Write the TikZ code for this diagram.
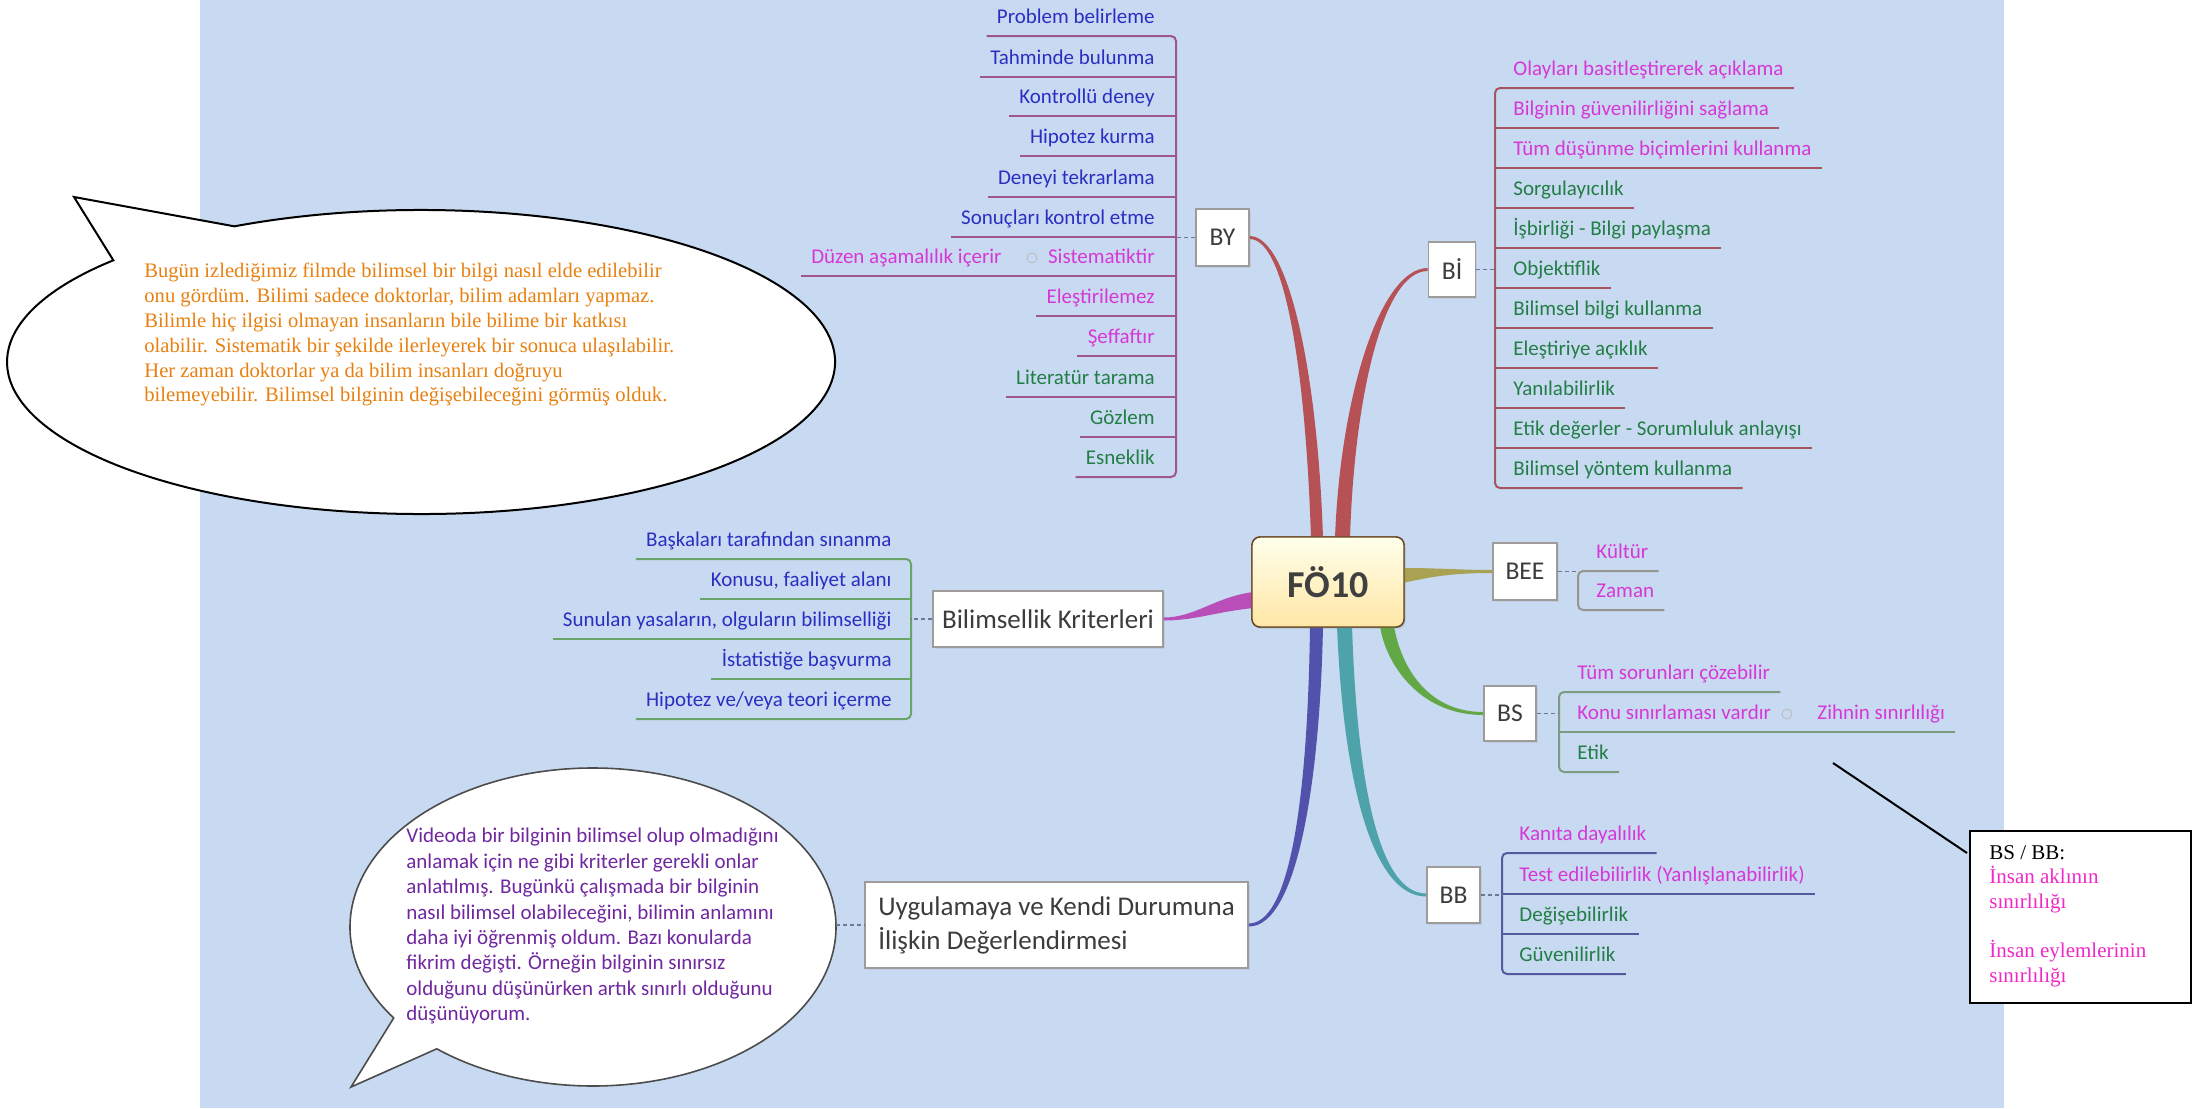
\documentclass[tikz,border=0pt]{standalone}
\usepackage{fontspec}
\setmainfont{Carlito}
\newfontfamily\serifnote{Liberation Serif}
\usetikzlibrary{calc,shadows}

% palette
\definecolor{mapbg}{RGB}{200,218,241}
\definecolor{ctext}{RGB}{60,60,60}
\definecolor{cborder}{RGB}{160,155,155}
\definecolor{cblue}{RGB}{45,45,195}
\definecolor{cmag}{RGB}{215,55,215}
\definecolor{cgreen}{RGB}{35,125,70}
\definecolor{cpurple}{RGB}{112,40,160}
\definecolor{corange}{RGB}{232,128,16}
\definecolor{cpink}{RGB}{240,40,200}
\definecolor{brRed}{RGB}{182,82,86}
\definecolor{brMag}{RGB}{186,78,184}
\definecolor{brOlive}{RGB}{168,162,82}
\definecolor{brGreen}{RGB}{98,168,70}
\definecolor{brTeal}{RGB}{78,163,170}
\definecolor{brBlue}{RGB}{82,82,172}
\definecolor{lnBY}{RGB}{160,85,140}
\definecolor{lnBI}{RGB}{165,85,95}
\definecolor{lnBK}{RGB}{105,165,105}
\definecolor{lnBEE}{RGB}{150,150,145}
\definecolor{lnBS}{RGB}{125,155,130}
\definecolor{lnBB}{RGB}{85,90,160}
\definecolor{cdash}{RGB}{110,120,150}

\newcommand\mmitem{\fontsize{10.5}{12.6}\selectfont}
\newcommand\mmtopic{\fontsize{12.8}{15}\selectfont}
\newcommand\mmbig{\fontsize{13.5}{17}\selectfont}

\begin{document}
\begin{tikzpicture}[x=0.5pt,y=-0.5pt,
  itemL/.style={anchor=south east, inner xsep=5pt, inner ysep=6pt, text depth=0pt, font=\mmitem},
  itemR/.style={anchor=south west, inner xsep=5pt, inner ysep=6pt, text depth=0pt, font=\mmitem},
  topic/.style={draw=cborder, line width=0.8pt, fill=white, inner sep=0pt, font=\mmtopic, text=ctext,
    drop shadow={shadow xshift=0.8pt, shadow yshift=-0.8pt, opacity=0.15}},
  central/.style={draw=black!45!brown, line width=0.7pt, rounded corners=4pt, top color=yellow!8, bottom color=yellow!45!orange!35,
    minimum width=76pt, minimum height=45pt, inner sep=0pt, font=\bfseries\fontsize{19}{22}\selectfont, text=black!75,
    drop shadow={shadow xshift=0.8pt, shadow yshift=-0.8pt, opacity=0.15}},
  ul/.style={line width=1pt},
  bracket/.style={line width=1pt, rounded corners=2.5pt},
  dashconn/.style={draw=cdash, line width=0.6pt, dash pattern=on 2pt off 1.5pt},
  collapse/.style={circle, draw=gray!55, line width=0.4pt, minimum size=5pt, inner sep=0pt},
  calloutA/.style={draw=black, line width=1pt, fill=white},
  calloutB/.style={draw=black!70, line width=0.8pt, fill=white}
]
\useasboundingbox (0,0) rectangle (2194,1108);
\fill[white] (0,0) rectangle (2194,1108);
\fill[mapbg] (200,0) rectangle (2004,1108);

% ---------- main topic boxes ----------
\node[central] (fo) at (1328,582) {FÖ10};
\node[topic, minimum width=26.5pt, minimum height=28.5pt] (by) at (1222.5,237.5) {BY};
\node[topic, minimum width=23.5pt, minimum height=27.5pt] (bi) at (1452,269.5) {Bİ};
\node[topic, minimum width=32pt, minimum height=28.5pt] (bee) at (1525,571.5) {BEE};
\node[topic, minimum width=26pt, minimum height=27.5pt] (bs) at (1510,713.5) {BS};
\node[topic, minimum width=26.5pt, minimum height=28pt] (bb) at (1453.5,895) {BB};
\node[topic, font=\mmbig, minimum width=115pt, minimum height=28pt] (bk) at (1048,619) {Bilimsellik Kriterleri};
\node[topic, font=\mmbig, align=left, minimum width=191.5pt, minimum height=43pt] (uy) at (1056.5,925)
  {Uygulamaya ve Kendi Durumuna\\İlişkin Değerlendirmesi};

% ---------- tapered branches from the central topic ----------
\fill[brRed] ($(fo.north)+(-5,2)$) .. controls (1318,380) and (1290,236.5) .. ($(by.east)+(0,-1.5)$)
  -- ($(by.east)+(0,1.5)$) .. controls (1287,239.5) and (1306,382) .. ($(fo.north)+(-17,2)$) -- cycle;
\fill[brRed] ($(fo.north)+(7,2)$) .. controls (1340,398) and (1380,268) .. ($(bi.west)+(0,-1.5)$)
  -- ($(bi.west)+(0,1.5)$) .. controls (1382,271) and (1354,402) .. ($(fo.north)+(22,2)$) -- cycle;
\fill[brMag] ($(fo.west)+(2,10)$) .. controls (1215,597) and (1195,617.5) .. ($(bk.east)+(0,-1.5)$)
  -- ($(bk.east)+(0,1.5)$) .. controls (1195,620.5) and (1215,612) .. ($(fo.west)+(2,26)$) -- cycle;
\fill[brOlive] ($(fo.east)+(-2,-14)$) .. controls (1440,568) and (1460,570) .. ($(bee.west)+(0,-1.5)$)
  -- ($(bee.west)+(0,1.5)$) .. controls (1450,573) and (1430,577) .. ($(fo.east)+(-2,1)$) -- cycle;
\fill[brGreen] ($(fo.south)+(66,-2)$) .. controls (1399,658) and (1422,712) .. ($(bs.west)+(0,-1.5)$)
  -- ($(bs.west)+(0,1.5)$) .. controls (1418,715) and (1385,662) .. ($(fo.south)+(52,-2)$) -- cycle;
\fill[brTeal] ($(fo.south)+(24,-2)$) .. controls (1357,780) and (1378,893.5) .. ($(bb.west)+(0,-1.5)$)
  -- ($(bb.west)+(0,1.5)$) .. controls (1372,896.5) and (1343,780) .. ($(fo.south)+(9,-2)$) -- cycle;
\fill[brBlue] ($(fo.south)+(-5,-2)$) .. controls (1320,782) and (1297,926.5) .. ($(uy.east)+(0,1.5)$)
  -- ($(uy.east)+(0,-1.5)$) .. controls (1293,923.5) and (1308,780) .. ($(fo.south)+(-18,-2)$) -- cycle;
% redraw the central box on top of the branch roots
\node[central] at (fo.center) {FÖ10};

% ---------- BY subtopics ----------
\coordinate (byvt) at (1176,35);
\coordinate (byvb) at (1176,477);
\node[itemL, text=cblue] (by1) at (1165,36) {Problem belirleme};
\node[itemL, text=cblue] (by2) at (1165,77) {Tahminde bulunma};
\node[itemL, text=cblue] (by3) at (1165,116) {Kontrollü deney};
\node[itemL, text=cblue] (by4) at (1165,156) {Hipotez kurma};
\node[itemL, text=cblue] (by5) at (1165,197) {Deneyi tekrarlama};
\node[itemL, text=cblue] (by6) at (1165,237) {Sonuçları kontrol etme};
\node[itemL, text=cmag] (by7) at (1165,276) {Sistematiktir};
\node[itemL, text=cmag] (by7a) at (1012,276) {Düzen aşamalılık içerir};
\node[itemL, text=cmag] (by8) at (1165,316) {Eleştirilemez};
\node[itemL, text=cmag] (by9) at (1165,356) {Şeffaftır};
\node[itemL, text=cgreen] (by10) at (1165,397) {Literatür tarama};
\node[itemL, text=cgreen] (by11) at (1165,437) {Gözlem};
\node[itemL, text=cgreen] (by12) at (1165,477) {Esneklik};
\node[collapse] (byc) at (1032,258) {};
\begin{scope}[draw=lnBY]
\draw[bracket] (by1.south west) -- (by1.south west -| byvt) -- (byvb) -- (by12.south west);
\foreach \n in {by2,by3,by4,by5,by6,by8,by9,by10,by11}
  \draw[ul] (\n.south west) -- (\n.south west -| byvt);
\draw[ul] (by7a.south west) -- (by7.south west -| byvt);
\end{scope}
\draw[dashconn] (by.west) -- (by.west -| byvt);

% ---------- Bİ subtopics ----------
\coordinate (bivt) at (1495,88);
\coordinate (bivb) at (1495,488);
\node[itemR, text=cmag] (bi1) at (1503,88) {Olayları basitleştirerek açıklama};
\node[itemR, text=cmag] (bi2) at (1503,128) {Bilginin güvenilirliğini sağlama};
\node[itemR, text=cmag] (bi3) at (1503,168) {Tüm düşünme biçimlerini kullanma};
\node[itemR, text=cgreen] (bi4) at (1503,208) {Sorgulayıcılık};
\node[itemR, text=cgreen] (bi5) at (1503,248) {İşbirliği - Bilgi paylaşma};
\node[itemR, text=cgreen] (bi6) at (1503,288) {Objektiflik};
\node[itemR, text=cgreen] (bi7) at (1503,328) {Bilimsel bilgi kullanma};
\node[itemR, text=cgreen] (bi8) at (1503,368) {Eleştiriye açıklık};
\node[itemR, text=cgreen] (bi9) at (1503,408) {Yanılabilirlik};
\node[itemR, text=cgreen] (bi10) at (1503,448) {Etik değerler - Sorumluluk anlayışı};
\node[itemR, text=cgreen] (bi11) at (1503,488) {Bilimsel yöntem kullanma};
\begin{scope}[draw=lnBI]
\draw[bracket] (bi1.south east) -- (bivt) -- (bivb) -- (bi11.south east);
\foreach \n in {bi2,bi3,bi4,bi5,bi6,bi7,bi8,bi9,bi10}
  \draw[ul] (\n.south east -| bivt) -- (\n.south east);
\end{scope}
\draw[dashconn] (bi.east) -- (bi.east -| bivt);

% ---------- BEE subtopics ----------
\coordinate (beevt) at (1578,571);
\coordinate (beevb) at (1578,610);
\node[itemR, text=cmag] (bee1) at (1586,571) {Kültür};
\node[itemR, text=cmag] (bee2) at (1586,610) {Zaman};
\draw[bracket, draw=lnBEE] (bee1.south east) -- (beevt) -- (beevb) -- (bee2.south east);
\draw[dashconn] (bee.east) -- (bee.east -| beevt);

% ---------- BS subtopics ----------
\coordinate (bsvt) at (1559,692);
\coordinate (bsvb) at (1559,772);
\node[itemR, text=cmag] (bs1) at (1567,692) {Tüm sorunları çözebilir};
\node[itemR, text=cmag] (bs2) at (1567,732) {Konu sınırlaması vardır};
\node[itemR, text=cmag] (bs2a) at (1807,732) {Zihnin sınırlılığı};
\node[itemR, text=cgreen] (bs3) at (1567,772) {Etik};
\node[collapse] (bsc) at (1787,714) {};
\draw[bracket, draw=lnBS] (bs1.south east) -- (bsvt) -- (bsvb) -- (bs3.south east);
\draw[ul, draw=lnBS] (bs2.south east -| bsvt) -- (bs2a.south east);
\draw[dashconn] (bs.east) -- (bs.east -| bsvt);

% ---------- BB subtopics ----------
\coordinate (bbvt) at (1502,853);
\coordinate (bbvb) at (1502,974);
\node[itemR, text=cmag] (bb1) at (1509,853) {Kanıta dayalılık};
\node[itemR, text=cmag] (bb2) at (1509,894) {Test edilebilirlik (Yanlışlanabilirlik)};
\node[itemR, text=cgreen] (bb3) at (1509,934) {Değişebilirlik};
\node[itemR, text=cgreen] (bb4) at (1509,974) {Güvenilirlik};
\begin{scope}[draw=lnBB]
\draw[bracket] (bb1.south east) -- (bbvt) -- (bbvb) -- (bb4.south east);
\foreach \n in {bb2,bb3}
  \draw[ul] (\n.south east -| bbvt) -- (\n.south east);
\end{scope}
\draw[dashconn] (bb.east) -- (bb.east -| bbvt);

% ---------- Bilimsellik Kriterleri subtopics ----------
\coordinate (bkvt) at (911,559);
\coordinate (bkvb) at (911,719);
\node[itemL, text=cblue] (bk1) at (902,559) {Başkaları tarafından sınanma};
\node[itemL, text=cblue] (bk2) at (902,599) {Konusu, faaliyet alanı};
\node[itemL, text=cblue] (bk3) at (902,639) {Sunulan yasaların, olguların bilimselliği};
\node[itemL, text=cblue] (bk4) at (902,679) {İstatistiğe başvurma};
\node[itemL, text=cblue] (bk5) at (902,719) {Hipotez ve/veya teori içerme};
\begin{scope}[draw=lnBK]
\draw[bracket] (bk1.south west) -- (bkvt) -- (bkvb) -- (bk5.south west);
\foreach \n in {bk2,bk3,bk4}
  \draw[ul] (\n.south west) -- (\n.south west -| bkvt);
\end{scope}
\draw[dashconn] (bk.west) -- (bk.west -| bkvt);

% ---------- speech callout, upper left ----------
\coordinate (eac) at (421,362);
\coordinate (eatip) at (74,197);
\draw[calloutA] ($(eac)+(243.2:414 and 152)$) arc[start angle=243.2, end angle=582, x radius=414, y radius=152] -- (eatip) -- cycle;
\node[anchor=north west, inner sep=0pt, align=left, text=corange,
  font=\serifnote\fontsize{10.3}{12.4}\selectfont] (eatext) at (144,263)
 {Bugün izlediğimiz filmde bilimsel bir bilgi nasıl elde edilebilir\\
  onu gördüm. Bilimi sadece doktorlar, bilim adamları yapmaz.\\
  Bilimle hiç ilgisi olmayan insanların bile bilime bir katkısı\\
  olabilir. Sistematik bir şekilde ilerleyerek bir sonuca ulaşılabilir.\\
  Her zaman doktorlar ya da bilim insanları doğruyu\\
  bilemeyebilir. Bilimsel bilginin değişebileceğini görmüş olduk.};

% ---------- speech callout, lower left ----------
\coordinate (bbc2) at (593,927);
\coordinate (bbtip) at (351,1087);
\coordinate (bbe) at (836,927);
\draw[calloutB] ($(bbc2)+(145.1:243 and 159)$) arc[start angle=145.1, end angle=490, x radius=243, y radius=159] -- (bbtip) -- cycle;
\node[anchor=north west, inner sep=0pt, align=left, text=cpurple,
  font=\fontsize{10.5}{12.7}\selectfont] (bubtext) at (406,828)
 {Videoda bir bilginin bilimsel olup olmadığını\\
  anlamak için ne gibi kriterler gerekli onlar\\
  anlatılmış. Bugünkü çalışmada bir bilginin\\
  nasıl bilimsel olabileceğini, bilimin anlamını\\
  daha iyi öğrenmiş oldum. Bazı konularda\\
  fikrim değişti. Örneğin bilginin sınırsız\\
  olduğunu düşünürken artık sınırlı olduğunu\\
  düşünüyorum.};
\draw[dashconn] (bbe |- uy.west) -- (uy.west);

% ---------- note box, right ----------
\node[draw=black, line width=1pt, fill=white, anchor=north west, inner sep=0pt,
  minimum width=110.5pt, minimum height=86pt] (note) at (1969,830) {};
\node[anchor=north west, inner sep=0pt, align=left,
  font=\serifnote\fontsize{10.5}{12.3}\selectfont] (notetext) at (1989,845)
 {BS / BB:\\
  \textcolor{cpink}{İnsan aklının}\\
  \textcolor{cpink}{sınırlılığı}\\[12.3pt]
  \textcolor{cpink}{İnsan eylemlerinin}\\
  \textcolor{cpink}{sınırlılığı}};
\coordinate (notept) at (1833,763);
\draw[line width=1pt] (notept) -- ($(note.north west)+(-2,23)$);
\end{tikzpicture}
\end{document}
